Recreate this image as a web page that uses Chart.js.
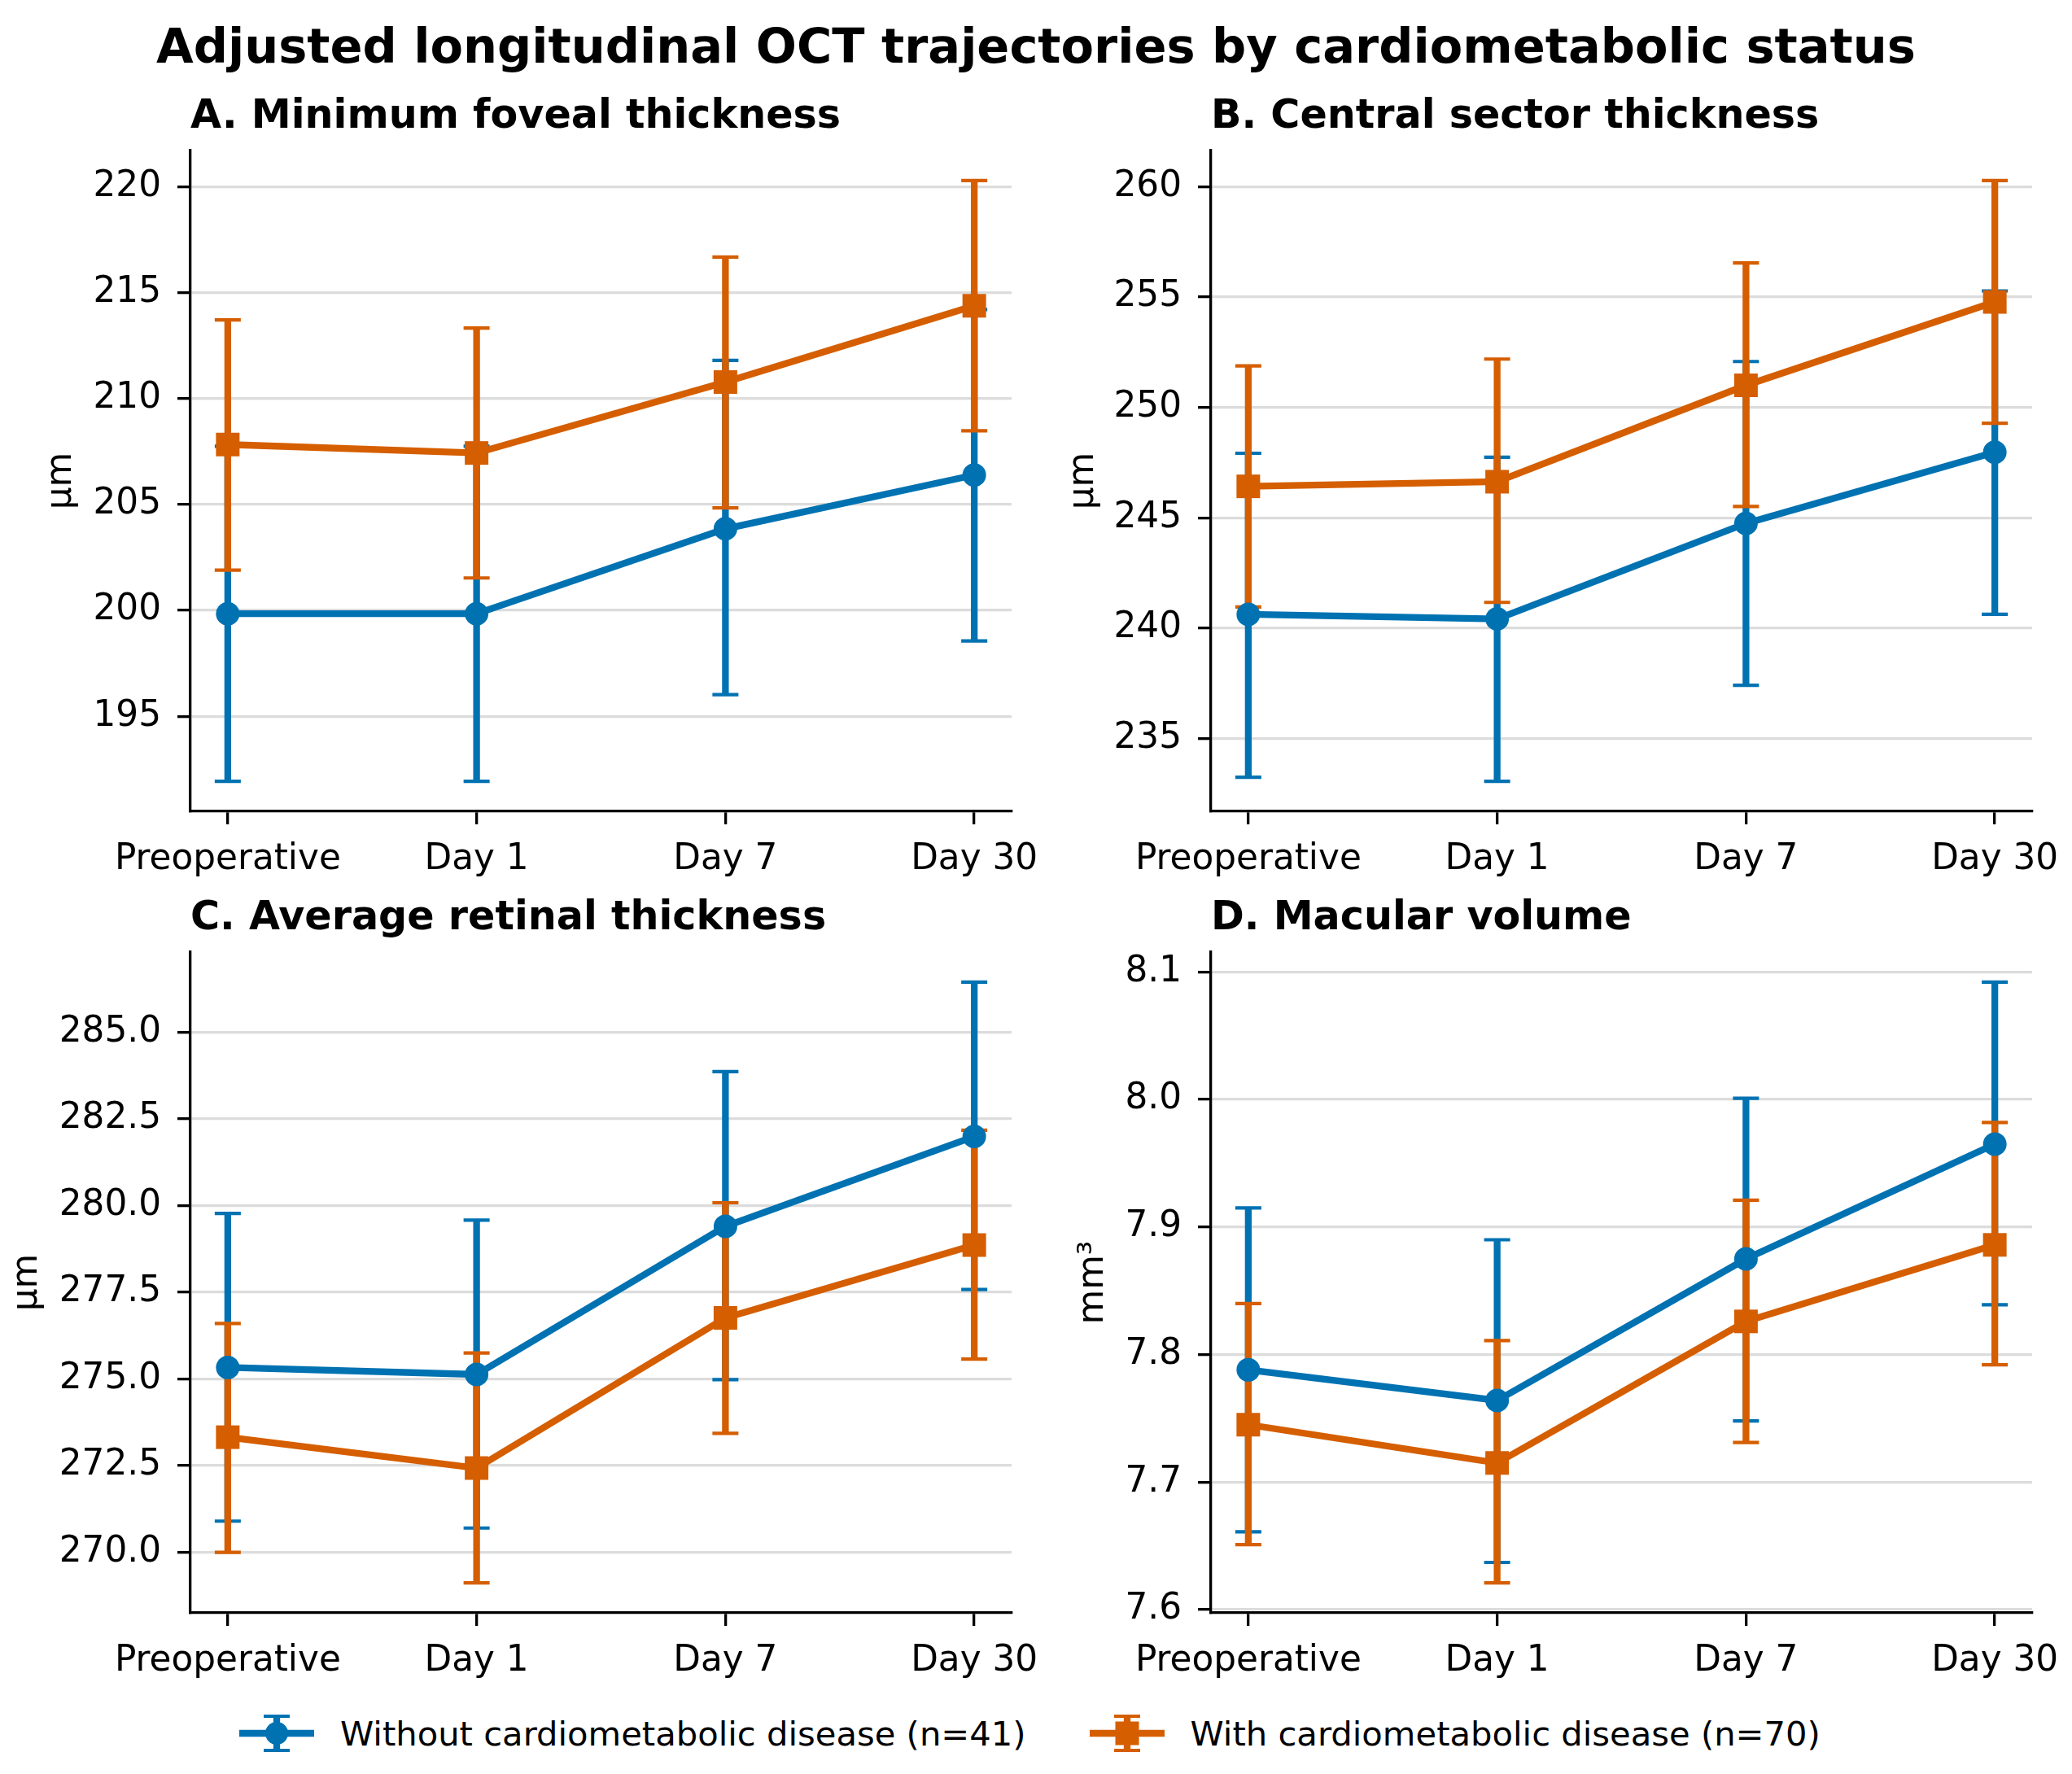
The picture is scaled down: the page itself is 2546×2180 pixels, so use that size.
<!DOCTYPE html>
<html>
<head>
<meta charset="utf-8">
<script src="https://cdn.jsdelivr.net/npm/chart.js@4.4.1/dist/chart.umd.min.js"></script>
<style>
  html, body { margin:0; padding:0; background:#fff; }
  body { width:2546px; height:2180px; overflow:hidden; position:relative; font-family:'DejaVu Sans'; }
  canvas.panel { position:absolute; }
  #title { position:absolute; left:0; top:22px; width:2546px; text-align:center; font-weight:bold; font-size:59px; line-height:70px; color:#000; }
  #legend { position:absolute; left:294px; top:2100px; height:60px; display:flex; justify-content:flex-start; align-items:center; font-size:41.7px; color:#000; }
  .item { display:flex; align-items:center; }
  .item span { margin-left:32px; white-space:nowrap; }
  .item + .item { margin-left:78px; }
</style>
</head>
<body>
<div id="title">Adjusted longitudinal OCT trajectories by cardiometabolic status</div>
<canvas class="panel" id="cA" width="1309" height="1000" style="left:0px;top:100px"></canvas>
<canvas class="panel" id="cB" width="1290" height="1000" style="left:1273px;top:100px"></canvas>
<canvas class="panel" id="cC" width="1309" height="1000" style="left:0px;top:1085px"></canvas>
<canvas class="panel" id="cD" width="1290" height="1000" style="left:1273px;top:1085px"></canvas>
<div id="legend">
  <div class="item"><canvas id="lg0" width="92" height="50"></canvas><span id="lt0"></span></div>
  <div class="item"><canvas id="lg1" width="92" height="50"></canvas><span id="lt1"></span></div>
</div>
<script>
// ---------------- data ----------------
const categories = ['Preoperative', 'Day 1', 'Day 7', 'Day 30'];
const seriesNames = ['Without cardiometabolic disease (n=41)', 'With cardiometabolic disease (n=70)'];

// A. Minimum foveal thickness (µm)
const aWithoutMean = [199.84, 199.84, 203.85, 206.39];
const aWithoutLow  = [191.93, 191.93, 196.02, 198.56];
const aWithoutHigh = [207.75, 207.75, 211.80, 214.20];
const aWithMean    = [207.83, 207.43, 210.78, 214.38];
const aWithLow     = [201.90, 201.53, 204.84, 208.48];
const aWithHigh    = [213.71, 213.33, 216.68, 220.29];
const aTicks = [195, 200, 205, 210, 215, 220];
const aTickLabels = ['195', '200', '205', '210', '215', '220'];

// B. Central sector thickness (µm)
const bWithoutMean = [240.62, 240.41, 244.74, 247.97];
const bWithoutLow  = [233.23, 233.05, 237.40, 240.62];
const bWithoutHigh = [247.92, 247.74, 252.08, 255.28];
const bWithMean    = [246.42, 246.63, 251.00, 254.78];
const bWithLow     = [240.95, 241.16, 245.51, 249.28];
const bWithHigh    = [251.88, 252.19, 256.55, 260.28];
const bTicks = [235, 240, 245, 250, 255, 260];
const bTickLabels = ['235', '240', '245', '250', '255', '260'];

// C. Average retinal thickness (µm)
const cWithoutMean = [275.33, 275.13, 279.40, 281.99];
const cWithoutLow  = [270.90, 270.70, 274.98, 277.58];
const cWithoutHigh = [279.77, 279.58, 283.86, 286.44];
const cWithMean    = [273.32, 272.43, 276.76, 278.86];
const cWithLow     = [270.00, 269.12, 273.43, 275.57];
const cWithHigh    = [276.60, 275.75, 280.08, 282.17];
const cTicks = [270, 272.5, 275, 277.5, 280, 282.5, 285];
const cTickLabels = ['270.0', '272.5', '275.0', '277.5', '280.0', '282.5', '285.0'];

// D. Macular volume (mm³)
const dWithoutMean = [7.788, 7.764, 7.875, 7.965];
const dWithoutLow  = [7.661, 7.637, 7.748, 7.839];
const dWithoutHigh = [7.915, 7.890, 8.001, 8.092];
const dWithMean    = [7.745, 7.715, 7.826, 7.886];
const dWithLow     = [7.651, 7.621, 7.731, 7.792];
const dWithHigh    = [7.840, 7.811, 7.921, 7.982];
const dTicks = [7.6, 7.7, 7.8, 7.9, 8.0, 8.1];
const dTickLabels = ['7.6', '7.7', '7.8', '7.9', '8.0', '8.1'];

// ---------------- style ----------------
const BLUE = '#0072B2';
const ORANGE = '#D55E00';
const FONT = "'DejaVu Sans'";
const TICK_FONT = 43.75;
const LINE_W = 8.3;
const ERR_W = 8.3;
const CAP_W = 4.2;
const CAP_HALF = 16;

Chart.defaults.font.family = FONT;
Chart.defaults.color = '#000';

const errorBarPlugin = {
  id: 'errorBars',
  beforeDatasetsDraw(chart) {
    const ctx = chart.ctx;
    const xs = chart.scales.x, ys = chart.scales.y;
    chart.data.datasets.forEach(ds => {
      ctx.save();
      ctx.strokeStyle = ds.borderColor;
      ctx.lineCap = 'butt';
      ds.errLow.forEach((lo, i) => {
        const px = xs.getPixelForValue(i);
        const y1 = ys.getPixelForValue(lo);
        const y2 = ys.getPixelForValue(ds.errHigh[i]);
        ctx.lineWidth = ERR_W;
        ctx.beginPath(); ctx.moveTo(px, y1); ctx.lineTo(px, y2); ctx.stroke();
        ctx.lineWidth = CAP_W;
        ctx.beginPath();
        ctx.moveTo(px - CAP_HALF, y1); ctx.lineTo(px + CAP_HALF, y1);
        ctx.moveTo(px - CAP_HALF, y2); ctx.lineTo(px + CAP_HALF, y2);
        ctx.stroke();
      });
      ctx.restore();
    });
  }
};

function toPoints(arr) { return arr.map((v, i) => ({ x: i, y: v })); }

function makePanel(canvasId, p) {
  const allLow = Math.min(...p.without.low, ...p.withD.low);
  const allHigh = Math.max(...p.without.high, ...p.withD.high);
  const pad = 0.05 * (allHigh - allLow);
  const datasets = [
    {
      label: seriesNames[0], data: toPoints(p.without.mean), errLow: p.without.low, errHigh: p.without.high,
      borderColor: BLUE, backgroundColor: BLUE, borderWidth: LINE_W, tension: 0,
      pointStyle: 'circle', pointRadius: 14.5, pointBackgroundColor: BLUE, pointBorderWidth: 0,
      order: 1, clip: false
    },
    {
      label: seriesNames[1], data: toPoints(p.withD.mean), errLow: p.withD.low, errHigh: p.withD.high,
      borderColor: ORANGE, backgroundColor: ORANGE, borderWidth: LINE_W, tension: 0,
      pointStyle: 'rect', pointRadius: 20.5, pointBackgroundColor: ORANGE, pointBorderWidth: 0,
      order: 0, clip: false
    }
  ];
  return new Chart(document.getElementById(canvasId), {
    type: 'line',
    data: { datasets },
    plugins: [errorBarPlugin],
    options: {
      responsive: false, animation: false, devicePixelRatio: 1,
      layout: { padding: { left: 0, right: p.rightPad, top: 0, bottom: 0 } },
      plugins: {
        legend: { display: false },
        tooltip: { enabled: false },
        title: {
          display: true, text: p.title, align: 'start', fullSize: false, color: '#000',
          font: { size: 49.2, weight: 'bold', family: FONT },
          padding: { top: 15, bottom: 11 }
        }
      },
      scales: {
        x: {
          type: 'linear', min: -0.15, max: 3.15,
          afterBuildTicks: s => { s.ticks = categories.map((c, i) => ({ value: i })); },
          afterFit: s => { s.height = 103; },
          ticks: {
            callback: v => categories[v], autoSkip: false, maxRotation: 0, minRotation: 0,
            font: { size: TICK_FONT, family: FONT }, color: '#000', padding: 17
          },
          grid: { display: true, drawOnChartArea: false, drawTicks: true, tickLength: 16, color: '#000', lineWidth: 3.3 },
          border: { display: true, color: '#000', width: 3.3 }
        },
        y: {
          type: 'linear', min: allLow - pad, max: allHigh + pad,
          afterBuildTicks: s => { s.ticks = p.ticks.map(v => ({ value: v })); },
          afterFit: s => { s.width = p.yWidth; },
          ticks: {
            callback: (v, i) => p.tickLabels[i],
            font: { size: TICK_FONT, family: FONT }, color: '#000', padding: 20
          },
          grid: { display: true, drawOnChartArea: true, drawTicks: true, tickLength: 16, color: '#dcdcdc', tickColor: '#000', lineWidth: 3.3 },
          border: { display: true, color: '#000', width: 3.3 },
          title: {
            display: true, text: p.yLabel, color: '#000',
            font: { size: TICK_FONT, family: FONT },
            padding: { top: p.yTitlePad, bottom: 0 }
          }
        }
      }
    }
  });
}

makePanel('cA', {
  title: 'A. Minimum foveal thickness', yLabel: 'µm', ticks: aTicks, tickLabels: aTickLabels,
  without: { mean: aWithoutMean, low: aWithoutLow, high: aWithoutHigh },
  withD: { mean: aWithMean, low: aWithLow, high: aWithHigh },
  yWidth: 234, yTitlePad: 49.75, rightPad: 66
});
makePanel('cB', {
  title: 'B. Central sector thickness', yLabel: 'µm', ticks: bTicks, tickLabels: bTickLabels,
  without: { mean: bWithoutMean, low: bWithoutLow, high: bWithoutHigh },
  withD: { mean: bWithMean, low: bWithLow, high: bWithHigh },
  yWidth: 215, yTitlePad: 32.75, rightPad: 66
});
makePanel('cC', {
  title: 'C. Average retinal thickness', yLabel: 'µm', ticks: cTicks, tickLabels: cTickLabels,
  without: { mean: cWithoutMean, low: cWithoutLow, high: cWithoutHigh },
  withD: { mean: cWithMean, low: cWithLow, high: cWithHigh },
  yWidth: 234, yTitlePad: 7.75, rightPad: 66
});
makePanel('cD', {
  title: 'D. Macular volume', yLabel: 'mm³', ticks: dTicks, tickLabels: dTickLabels,
  without: { mean: dWithoutMean, low: dWithoutLow, high: dWithoutHigh },
  withD: { mean: dWithMean, low: dWithLow, high: dWithHigh },
  yWidth: 215, yTitlePad: 44.75, rightPad: 66
});

// ---------------- legend ----------------
function drawHandle(id, color, square) {
  const c = document.getElementById(id);
  const ctx = c.getContext('2d');
  const cx = 46, cy = 25;
  ctx.strokeStyle = color; ctx.fillStyle = color;
  ctx.lineWidth = ERR_W;
  ctx.beginPath(); ctx.moveTo(cx, cy - 21); ctx.lineTo(cx, cy + 21); ctx.stroke();
  ctx.lineWidth = CAP_W;
  ctx.beginPath();
  ctx.moveTo(cx - CAP_HALF, cy - 21); ctx.lineTo(cx + CAP_HALF, cy - 21);
  ctx.moveTo(cx - CAP_HALF, cy + 21); ctx.lineTo(cx + CAP_HALF, cy + 21);
  ctx.stroke();
  ctx.lineWidth = LINE_W;
  ctx.beginPath(); ctx.moveTo(0, cy); ctx.lineTo(92, cy); ctx.stroke();
  if (square) { ctx.fillRect(cx - 14.5, cy - 14.5, 29, 29); }
  else { ctx.beginPath(); ctx.arc(cx, cy, 14, 0, Math.PI * 2); ctx.fill(); }
}
drawHandle('lg0', BLUE, false);
drawHandle('lg1', ORANGE, true);
document.getElementById('lt0').textContent = seriesNames[0];
document.getElementById('lt1').textContent = seriesNames[1];
</script>
</body>
</html>
